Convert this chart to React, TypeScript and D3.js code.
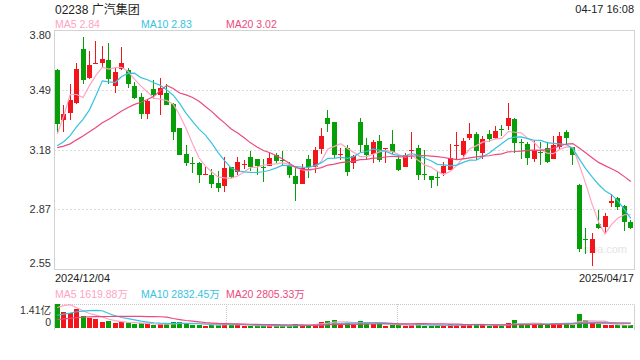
import React from "react";
import * as d3 from "d3";

const opens = [3.595,3.333,3.371,3.424,3.705,3.555,3.632,3.630,3.648,3.513,3.599,3.595,3.511,3.455,3.368,3.494,3.467,3.476,3.420,3.292,3.158,3.107,3.109,3.051,3.049,3.007,2.988,3.088,3.061,3.100,3.140,3.128,3.089,3.096,3.149,3.124,3.100,3.039,3.000,3.131,3.088,3.184,3.345,3.322,3.154,3.189,3.109,3.324,3.201,3.154,3.222,3.182,3.210,3.128,3.088,3.173,3.189,3.051,3.039,3.037,3.058,3.075,3.200,3.149,3.240,3.259,3.161,3.259,3.242,3.285,3.303,3.341,3.221,3.210,3.128,3.168,3.189,3.131,3.193,3.271,3.193,2.996,2.711,2.641,2.790,2.776,2.898,2.926,2.886,2.802];
const closes = [3.312,3.368,3.438,3.600,3.543,3.622,3.635,3.653,3.548,3.583,3.630,3.525,3.450,3.368,3.432,3.464,3.502,3.415,3.271,3.152,3.110,3.103,3.047,3.054,2.997,2.977,3.082,3.035,3.117,3.103,3.091,3.093,3.086,3.135,3.119,3.121,3.047,3.000,3.084,3.091,3.180,3.249,3.312,3.149,3.159,3.061,3.144,3.201,3.149,3.219,3.123,3.186,3.166,3.075,3.149,3.177,3.049,3.047,3.018,3.033,3.096,3.135,3.203,3.222,3.263,3.172,3.233,3.233,3.275,3.282,3.347,3.214,3.217,3.135,3.175,3.165,3.114,3.201,3.249,3.240,3.149,2.662,2.708,2.711,2.772,2.834,2.912,2.877,2.799,2.772];
const highs = [3.600,3.411,3.525,3.635,3.770,3.697,3.747,3.721,3.739,3.604,3.718,3.604,3.534,3.473,3.446,3.543,3.555,3.525,3.422,3.294,3.201,3.140,3.114,3.088,3.079,3.070,3.140,3.090,3.140,3.123,3.172,3.130,3.131,3.161,3.161,3.172,3.117,3.088,3.105,3.149,3.193,3.292,3.385,3.325,3.189,3.201,3.149,3.345,3.242,3.231,3.254,3.189,3.280,3.149,3.161,3.271,3.201,3.180,3.040,3.067,3.117,3.210,3.271,3.242,3.320,3.271,3.249,3.280,3.301,3.306,3.424,3.345,3.236,3.219,3.228,3.219,3.219,3.249,3.271,3.284,3.195,3.000,2.772,2.743,2.865,2.846,2.948,2.930,2.890,2.811];
const lows = [3.271,3.271,3.333,3.420,3.525,3.550,3.630,3.604,3.525,3.473,3.597,3.504,3.443,3.341,3.341,3.446,3.362,3.411,3.231,3.149,3.096,3.058,3.004,3.047,2.977,2.956,2.956,3.032,3.049,3.079,3.070,3.049,3.009,3.095,3.110,3.096,3.030,2.909,2.998,3.030,3.058,3.154,3.271,3.135,3.126,3.040,3.079,3.166,3.123,3.109,3.117,3.110,3.158,3.067,3.087,3.128,3.018,3.018,2.977,2.988,3.039,3.074,3.128,3.128,3.228,3.126,3.128,3.219,3.236,3.249,3.280,3.161,3.131,3.100,3.114,3.100,3.109,3.130,3.184,3.210,3.100,2.645,2.632,2.571,2.764,2.741,2.877,2.865,2.755,2.764];
// volumes in millions of shares
const volumes = [141,95,90,110,70,60,50,36,40,30,34,28,24,27,21,19,25,21,34,38,28,16,20,14,17,18,32,16,18,11,14,12,13,15,11,9,14,24,20,16,26,38,44,48,24,28,18,42,28,26,24,14,18,17,13,20,28,14,14,11,13,24,20,24,17,24,19,14,17,11,30,45,25,25,22,20,25,28,30,28,20,85,45,30,22,18,16,15,17,15];
// trading days before the first visible day (used only for the moving averages)
const priorCloses = [3.22,3.20,3.18,3.15,3.17,3.19,3.16,3.18,3.17,3.18,3.16,3.12,3.14,3.15,3.13,2.90,2.87,3.60,3.62];
const priorVolumes = [25,25,25,25,25,25,25,25,25,25,30,30,30,30,30,40,60,200,160];

const title = "02238 广汽集团";
const timeLabel = "04-17 16:08";
const priceTickLabels = ["3.80", "3.49", "3.18", "2.87", "2.55"];
const dateLabels = ["2024/12/04", "2025/04/17"];
const maLabels = ["MA5 2.84", "MA10 2.83", "MA20 3.02"];
const volMaLabels = ["MA5 1619.88万", "MA10 2832.45万", "MA20 2805.33万"];
const volTickLabels = ["1.41亿", "0"];
const maPeriods = [5, 10, 20];
const maColors = ["#ffa3c2", "#36c3e0", "#ec4a7f"];

const RED = "#f2161c";
const GREEN = "#079f07";
const FONT = "'Liberation Sans', Arial, 'Noto Sans CJK SC', sans-serif";

function movingAvg(all: number[], offset: number, n: number, p: number) {
  const out: number[] = [];
  for (let i = 0; i < n; i++) {
    const end = offset + i;
    out.push(d3.mean(all.slice(end - p + 1, end + 1)) as number);
  }
  return out;
}

export default function App() {
  const W = 640, H = 360;
  const left = 54, right = 634, top = 30, bottom = 269;
  const vTop = 304, vBottom = 328;
  const n = closes.length;

  const x = d3.scaleBand<number>().domain(d3.range(n)).range([left, right]).paddingInner(0.2).paddingOuter(0.1);
  const cx = (i: number) => (x(i) as number) + x.bandwidth() / 2;
  const y = d3.scaleLinear().domain([2.555, 3.805]).range([bottom, top]);
  const yv = d3.scaleLinear().domain([0, 141]).range([vBottom, vTop]);

  const allC = [...priorCloses, ...closes];
  const allV = [...priorVolumes, ...volumes];
  const priceMAs = maPeriods.map((p) => movingAvg(allC, priorCloses.length, n, p));
  const volMAs = maPeriods.map((p) => movingAvg(allV, priorVolumes.length, n, p));

  const line = d3.line<number>().x((_, i) => cx(i)).y((v) => y(v));
  const vline = d3.line<number>().x((_, i) => cx(i)).y((v) => yv(v));

  const gridVals = d3.range(5).map((k) => 3.805 - k * 0.3125);
  const labelY = [top + 8.5, y(gridVals[1]) + 4, y(gridVals[2]) + 4, y(gridVals[3]) + 4, bottom - 2];
  const legendX = [55, 141, 226];
  const volGridFrac = [0.2966, 0.5914];
  const bw = 5;

  return (
    <svg width={W} height={H} style={{ position: "absolute", left: 0, top: 0, background: "#fff" }} fontFamily={FONT}>
      <defs>
        <clipPath id="mainClip"><rect x={left} y={top} width={right - left} height={bottom - top} /></clipPath>
        <clipPath id="volClip"><rect x={left} y={vTop} width={right - left} height={vBottom - vTop + 2} /></clipPath>
      </defs>
      <rect width={W} height={H} fill="#fff" />
      {/* header */}
      <text x={55} y={13.5} fontSize={12} fill="#222">{title}</text>
      <text x={634} y={13} fontSize={11} fill="#222" textAnchor="end">{timeLabel}</text>
      {maLabels.map((t, k) => (
        <text key={t} x={legendX[k]} y={28} fontSize={10.5} fill={maColors[k]}>{t}</text>
      ))}
      {/* main grid */}
      {gridVals.slice(1, 4).map((v) => (
        <line key={v} x1={left} x2={right} y1={Math.round(y(v)) + 0.5} y2={Math.round(y(v)) + 0.5} stroke="#dcdcdc" strokeDasharray="2,2" />
      ))}
      <rect x={left + 0.5} y={top + 0.5} width={right - left} height={bottom - top} fill="none" stroke="#d2d2d2" />
      {priceTickLabels.map((t, k) => (
        <text key={t} x={51} y={labelY[k]} fontSize={11} fill="#333" textAnchor="end">{t}</text>
      ))}
      <text x={583} y={253} fontSize={11} fill="#e4e4e4">sina.com</text>
      {/* candles */}
      <g>
        {closes.map((c, i) => {
          const o = opens[i];
          const up = c >= o;
          const col = up ? RED : GREEN;
          const bx = Math.round(cx(i) - bw / 2);
          const yTop = Math.round(y(Math.max(o, c)));
          const yBot = Math.round(y(Math.min(o, c)));
          return (
            <g key={i}>
              <line x1={bx + 2.5} x2={bx + 2.5} y1={Math.round(y(highs[i]))} y2={Math.round(y(lows[i]))} stroke={col} strokeWidth={1} />
              <rect x={bx} y={yTop} width={bw} height={Math.max(1, yBot - yTop)} fill={col} />
            </g>
          );
        })}
      </g>
      <g clipPath="url(#mainClip)">
        {priceMAs.map((m, k) => (
          <path key={k} d={line(m) as string} fill="none" stroke={maColors[k]} strokeWidth={1.2} />
        ))}
      </g>
      {/* dates */}
      <text x={55} y={281.5} fontSize={11} fill="#222">{dateLabels[0]}</text>
      <text x={634} y={281.5} fontSize={11} fill="#222" textAnchor="end">{dateLabels[1]}</text>
      {/* volume */}
      {volMaLabels.map((t, k) => (
        <text key={t} x={legendX[k]} y={298} fontSize={10.5} fill={maColors[k]}>{t}</text>
      ))}
      <line x1={left} x2={right} y1={vTop + 0.5} y2={vTop + 0.5} stroke="#c8c8c8" strokeDasharray="1,1" />
      {volGridFrac.map((f) => {
        const gx = Math.round(left + f * (right - left)) + 0.5;
        return <line key={f} x1={gx} x2={gx} y1={vTop} y2={vBottom + 2} stroke="#c8c8c8" strokeDasharray="1,1" />;
      })}
      <line x1={left + 0.5} x2={left + 0.5} y1={vTop} y2={vBottom + 2} stroke="#d2d2d2" />
      <line x1={right + 0.5} x2={right + 0.5} y1={vTop} y2={vBottom + 2} stroke="#d2d2d2" />
      <text x={51} y={314} fontSize={10.5} fill="#333" textAnchor="end">{volTickLabels[0]}</text>
      <text x={51} y={326} fontSize={10.5} fill="#333" textAnchor="end">{volTickLabels[1]}</text>
      <g clipPath="url(#volClip)">
        {volumes.map((v, i) => {
          const col = closes[i] >= opens[i] ? RED : GREEN;
          const bx = Math.round(cx(i) - bw / 2);
          const yt = Math.round(yv(v));
          return <rect key={i} x={bx} y={yt} width={bw} height={vBottom - yt} fill={col} />;
        })}
        {volMAs.map((m, k) => (
          <path key={k} d={vline(m) as string} fill="none" stroke={maColors[k]} strokeWidth={1.2} />
        ))}
      </g>
    </svg>
  );
}
